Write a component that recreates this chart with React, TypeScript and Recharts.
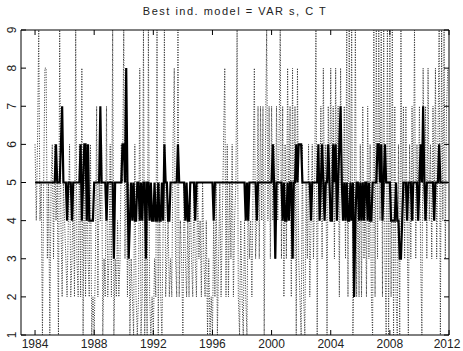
import { Line, LineChart, XAxis, YAxis } from "recharts"

// monthly values, one row per year, 1984 .. 2011
const bestModel = [
  5, 5, 5, 5, 5, 5, 5, 5, 5, 5, 5, 5,
  5, 5, 5, 5, 5, 6, 5, 5, 5, 6, 7, 5,
  5, 5, 4, 5, 5, 5, 4, 5, 5, 5, 5, 5,
  5, 6, 4, 5, 6, 6, 4, 6, 4, 4, 4, 4,
  5, 5, 5, 5, 5, 7, 5, 5, 5, 5, 4, 5,
  5, 5, 5, 5, 3, 5, 5, 5, 5, 5, 5, 6,
  6, 5, 8, 5, 3, 4, 5, 4, 5, 4, 4, 5,
  5, 4, 5, 4, 5, 5, 3, 5, 5, 4, 5, 4,
  4, 5, 4, 4, 5, 4, 4, 5, 4, 6, 5, 5,
  4, 4, 5, 5, 5, 5, 5, 5, 6, 5, 5, 5,
  5, 5, 4, 5, 4, 4, 5, 5, 5, 5, 4, 5,
  5, 5, 5, 5, 5, 5, 5, 5, 5, 5, 5, 5,
  5, 4, 5, 5, 5, 5, 5, 5, 5, 5, 5, 5,
  5, 5, 5, 5, 5, 5, 5, 5, 5, 5, 5, 5,
  5, 5, 5, 4, 5, 4, 5, 5, 5, 5, 5, 5,
  4, 5, 5, 5, 5, 5, 5, 5, 5, 5, 5, 5,
  5, 6, 5, 3, 5, 5, 5, 5, 5, 4, 5, 4,
  4, 5, 4, 5, 5, 3, 5, 5, 6, 5, 6, 6,
  6, 5, 5, 5, 5, 5, 5, 5, 4, 5, 5, 5,
  5, 5, 6, 4, 5, 6, 5, 4, 5, 5, 6, 5,
  4, 4, 6, 5, 6, 4, 5, 6, 7, 5, 4, 5,
  4, 5, 4, 4, 5, 4, 5, 2, 4, 5, 5, 4,
  5, 4, 5, 4, 5, 5, 4, 5, 4, 4, 5, 5,
  5, 5, 6, 6, 5, 6, 4, 5, 6, 5, 5, 5,
  5, 4, 4, 4, 4, 5, 4, 4, 3, 3, 4, 5,
  5, 5, 4, 5, 5, 5, 4, 5, 5, 5, 5, 4,
  5, 6, 5, 7, 5, 4, 5, 5, 5, 5, 5, 5,
  4, 5, 5, 5, 6, 5, 5, 5, 5, 5, 5, 5,
]

const otherModel = [
  6, 4, 6, 9, 4, 5, 1, 5, 8, 8, 3, 5,
  1, 5, 6, 3, 6, 4, 5, 1, 9, 4, 2, 5,
  4, 3, 2, 4, 6, 2, 3, 5, 2, 9, 3, 2,
  6, 2, 8, 1, 6, 2, 6, 3, 2, 6, 1, 2,
  1, 3, 7, 2, 5, 4, 6, 1, 3, 2, 7, 2,
  3, 6, 2, 9, 1, 3, 2, 4, 2, 3, 6, 5,
  9, 3, 6, 2, 5, 1, 3, 2, 1, 6, 2, 1,
  2, 8, 1, 2, 9, 1, 3, 1, 9, 2, 1, 2,
  1, 3, 2, 9, 1, 5, 2, 1, 4, 9, 2, 3,
  4, 2, 3, 2, 6, 8, 3, 2, 9, 2, 4, 3,
  1, 5, 3, 2, 4, 2, 5, 3, 2, 5, 3, 2,
  5, 3, 4, 2, 5, 3, 2, 4, 1, 3, 1, 2,
  1, 4, 2, 5, 1, 3, 5, 2, 4, 6, 8, 2,
  6, 2, 5, 3, 6, 2, 4, 5, 9, 2, 1, 4,
  2, 1, 4, 2, 1, 5, 3, 4, 2, 5, 8, 3,
  4, 7, 3, 7, 4, 7, 1, 6, 9, 4, 7, 3,
  7, 4, 6, 3, 7, 4, 6, 9, 3, 7, 2, 6,
  3, 8, 4, 7, 2, 8, 3, 7, 1, 8, 3, 2,
  1, 6, 2, 1, 5, 3, 6, 2, 4, 6, 3, 5,
  9, 1, 6, 4, 7, 3, 8, 4, 6, 1, 7, 4,
  8, 4, 7, 3, 8, 4, 7, 2, 8, 5, 4, 7,
  3, 9, 2, 9, 4, 9, 1, 3, 9, 2, 5, 2,
  6, 2, 7, 3, 5, 2, 7, 3, 6, 2, 1, 9,
  2, 9, 3, 9, 4, 9, 2, 9, 3, 1, 9, 1,
  9, 2, 9, 1, 7, 2, 1, 6, 1, 9, 4, 7,
  3, 7, 4, 1, 6, 3, 7, 4, 9, 3, 6, 4,
  7, 3, 1, 8, 4, 7, 3, 8, 4, 6, 3, 7,
  4, 8, 3, 6, 9, 1, 9, 4, 9, 3, 7, 8,
]

const startYear = 1984
const yearTicks = [1984, 1988, 1992, 1996, 2000, 2004, 2008, 2012]
const levelTicks = [1, 2, 3, 4, 5, 6, 7, 8, 9]

const data = bestModel.map((v, i) => ({
  t: startYear + i / 12,
  best: v,
  other: otherModel[i],
}))

const font = "'Liberation Sans', Arial, sans-serif"
const ink = "#222"

const XLabel = ({ x, payload }: any) => (
  <text x={x} y={348} textAnchor="middle" fontSize={12} fontFamily={font} fill={ink}>
    {payload.value}
  </text>
)

const YLabel = ({ y, payload }: any) => (
  <g transform={`translate(12,${y}) rotate(-90)`}>
    <text x={0} y={0} dy="0.35em" textAnchor="middle" fontSize={12} fontFamily={font} fill={ink}>
      {payload.value}
    </text>
  </g>
)

const Empty = () => <g />

export default function App() {
  return (
    <div style={{ position: "absolute", left: 0, top: 0, width: 463, height: 351, background: "#fff" }}>
      <div
        style={{
          position: "absolute",
          top: 5,
          left: 21,
          width: 428,
          textAlign: "center",
          fontFamily: font,
          fontSize: 11,
          letterSpacing: 1.5,
          color: ink,
        }}
      >
        Best ind. model = VAR s, C T
      </div>
      <LineChart width={463} height={351} data={data} margin={{ top: 29, right: 13, bottom: 0, left: 0 }}>
        <XAxis
          xAxisId="main"
          dataKey="t"
          type="number"
          domain={[1983.05, 2012]}
          ticks={yearTicks}
          height={16}
          tickSize={-5}
          stroke="#000"
          tick={XLabel}
          allowDataOverflow
        />
        <XAxis
          xAxisId="top"
          orientation="top"
          dataKey="t"
          type="number"
          domain={[1983.05, 2012]}
          ticks={yearTicks}
          height={1}
          tickSize={-5}
          stroke="#000"
          tick={Empty}
          allowDataOverflow
        />
        <YAxis
          yAxisId="left"
          type="number"
          domain={[1, 9]}
          ticks={levelTicks}
          width={21}
          tickSize={-5}
          stroke="#000"
          tick={YLabel}
          allowDataOverflow
        />
        <YAxis
          yAxisId="right"
          orientation="right"
          type="number"
          domain={[1, 9]}
          ticks={levelTicks}
          width={1}
          tickSize={-5}
          stroke="#000"
          tick={Empty}
          allowDataOverflow
        />
        <Line
          xAxisId="main"
          yAxisId="left"
          type="linear"
          dataKey="other"
          stroke="#333"
          strokeWidth={1}
          strokeDasharray="1 1.5"
          dot={false}
          isAnimationActive={false}
        />
        <Line
          xAxisId="main"
          yAxisId="left"
          type="linear"
          dataKey="best"
          stroke="#000"
          strokeWidth={2.2}
          dot={false}
          isAnimationActive={false}
        />
      </LineChart>
    </div>
  )
}
